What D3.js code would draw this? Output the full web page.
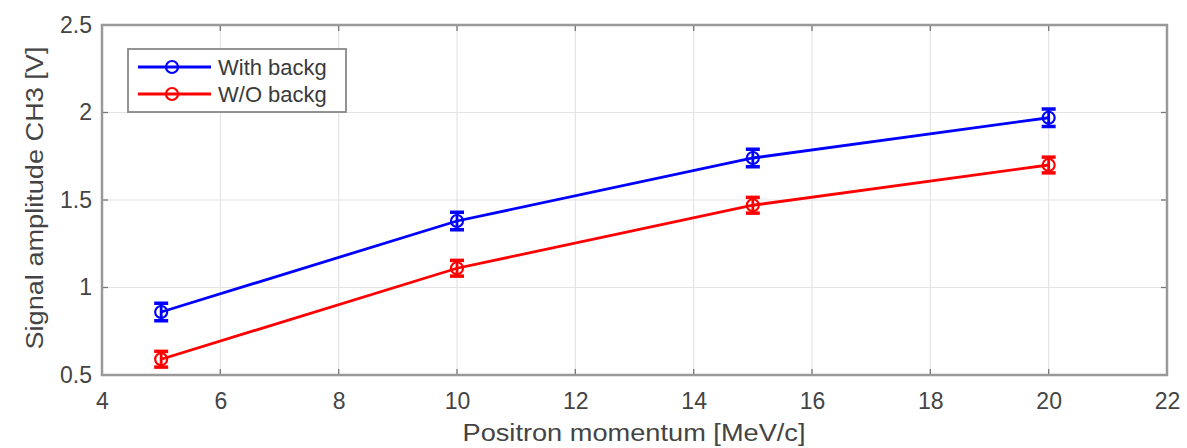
<!DOCTYPE html>
<html>
<head>
<meta charset="utf-8">
<script src="https://cdn.jsdelivr.net/npm/d3@7"></script>
<style>
  body { margin: 0; background: #fff; }
  svg text { font-family: "Liberation Sans", Arial, sans-serif; fill: #3a3a3a; }
</style>
</head>
<body>
<svg id="vis" width="1187" height="448"></svg>
<script>
var momentum = [5, 10, 15, 20];
var withBackg = [0.86, 1.38, 1.74, 1.97];
var withoutBackg = [0.59, 1.11, 1.47, 1.70];
var errWith = [0.05, 0.05, 0.05, 0.05];
var errWithout = [0.045, 0.045, 0.045, 0.045];
var xTicks = [4, 6, 8, 10, 12, 14, 16, 18, 20, 22];
var yTicks = [0.5, 1, 1.5, 2, 2.5];
var seriesNames = ["With backg", "W/O backg"];
var seriesColors = ["#0000ff", "#ff0000"];

var vis = d3.select("#vis"),
  MARGINS = { top: 25, right: 20, bottom: 73, left: 102 },
  WIDTH = 1187,
  HEIGHT = 448,
  xScale = d3.scaleLinear().domain([4, 22]).range([MARGINS.left, WIDTH - MARGINS.right]),
  yScale = d3.scaleLinear().domain([0.5, 2.5]).range([HEIGHT - MARGINS.bottom, MARGINS.top]);

// grid
vis.append("g").selectAll("line").data(xTicks).enter().append("line")
  .attr("x1", function (d) { return xScale(d); })
  .attr("x2", function (d) { return xScale(d); })
  .attr("y1", yScale(0.5)).attr("y2", yScale(2.5))
  .attr("stroke", "#e4e4e4").attr("stroke-width", 1.2);
vis.append("g").selectAll("line").data(yTicks).enter().append("line")
  .attr("y1", function (d) { return yScale(d); })
  .attr("y2", function (d) { return yScale(d); })
  .attr("x1", xScale(4)).attr("x2", xScale(22))
  .attr("stroke", "#e4e4e4").attr("stroke-width", 1.2);

// axes
var xAxis = d3.axisBottom(xScale).tickValues(xTicks).tickSize(0).tickPadding(18),
  yAxis = d3.axisLeft(yScale).tickValues(yTicks).tickSize(0).tickPadding(10)
    .tickFormat(function (d) { return d3.format("")(d); });

var gx = vis.append("g")
  .attr("transform", "translate(0," + yScale(0.5) + ")")
  .call(xAxis);
var gy = vis.append("g")
  .attr("transform", "translate(" + xScale(4) + ",0)")
  .call(yAxis);
[gx, gy].forEach(function (g) {
  g.select(".domain").remove();
  g.selectAll("text").style("font-size", "23px").style("fill", "#444");
});

// inner tick marks on all four sides
var tk = 6;
xTicks.forEach(function (t) {
  vis.append("line").attr("x1", xScale(t)).attr("x2", xScale(t))
    .attr("y1", yScale(0.5)).attr("y2", yScale(0.5) - tk).attr("stroke", "#777").attr("stroke-width", 1.3);
  vis.append("line").attr("x1", xScale(t)).attr("x2", xScale(t))
    .attr("y1", yScale(2.5)).attr("y2", yScale(2.5) + tk).attr("stroke", "#777").attr("stroke-width", 1.3);
});
yTicks.forEach(function (t) {
  vis.append("line").attr("y1", yScale(t)).attr("y2", yScale(t))
    .attr("x1", xScale(4)).attr("x2", xScale(4) + tk).attr("stroke", "#777").attr("stroke-width", 1.3);
  vis.append("line").attr("y1", yScale(t)).attr("y2", yScale(t))
    .attr("x1", xScale(22)).attr("x2", xScale(22) - tk).attr("stroke", "#777").attr("stroke-width", 1.3);
});

// box
vis.append("rect")
  .attr("x", xScale(4)).attr("y", yScale(2.5))
  .attr("width", xScale(22) - xScale(4)).attr("height", yScale(0.5) - yScale(2.5))
  .attr("fill", "none").attr("stroke", "#999").attr("stroke-width", 2.5);

// axis titles
vis.append("text")
  .attr("x", 634)
  .attr("y", 441)
  .attr("textLength", 343)
  .attr("lengthAdjust", "spacingAndGlyphs")
  .style("text-anchor", "middle")
  .style("font-size", "23px")
  .style("fill", "#444")
  .text("Positron momentum [MeV/c]");
vis.append("text")
  .attr("transform", "translate(43,198) rotate(-90)")
  .attr("textLength", 303)
  .attr("lengthAdjust", "spacingAndGlyphs")
  .style("text-anchor", "middle")
  .style("font-size", "23px")
  .style("fill", "#444")
  .text("Signal amplitude CH3 [V]");

// series
var allSeries = [
  { values: withBackg, err: errWith },
  { values: withoutBackg, err: errWithout }
];
var line = d3.line()
  .x(function (d) { return xScale(d.x); })
  .y(function (d) { return yScale(d.y); });

allSeries.forEach(function (s, i) {
  var colored = seriesColors[i];
  var pts = momentum.map(function (m, j) { return { x: m, y: s.values[j], e: s.err[j] }; });
  var g = vis.append("g");
  g.append("path").datum(pts)
    .attr("d", line).attr("fill", "none")
    .attr("stroke", colored).attr("stroke-width", 2.8);
  var cap = 7;
  pts.forEach(function (p) {
    var cx = xScale(p.x), y1 = yScale(p.y + p.e), y0 = yScale(p.y - p.e);
    g.append("line").attr("x1", cx).attr("x2", cx).attr("y1", y1).attr("y2", y0)
      .attr("stroke", colored).attr("stroke-width", 2.8);
    g.append("line").attr("x1", cx - cap).attr("x2", cx + cap).attr("y1", y1).attr("y2", y1)
      .attr("stroke", colored).attr("stroke-width", 3.5);
    g.append("line").attr("x1", cx - cap).attr("x2", cx + cap).attr("y1", y0).attr("y2", y0)
      .attr("stroke", colored).attr("stroke-width", 3.5);
    g.append("circle").attr("cx", cx).attr("cy", yScale(p.y)).attr("r", 6)
      .attr("fill", "none").attr("stroke", colored).attr("stroke-width", 2.2);
  });
});

// legend
var lg = vis.append("g");
lg.append("rect").attr("x", 128).attr("y", 49).attr("width", 218).attr("height", 63)
  .attr("fill", "#fff").attr("stroke", "#888").attr("stroke-width", 1.8);
seriesNames.forEach(function (name, i) {
  var ly = 67 + i * 27;
  lg.append("line").attr("x1", 138).attr("x2", 211).attr("y1", ly).attr("y2", ly)
    .attr("stroke", seriesColors[i]).attr("stroke-width", 2.8);
  lg.append("circle").attr("cx", 172).attr("cy", ly).attr("r", 6)
    .attr("fill", "none").attr("stroke", seriesColors[i]).attr("stroke-width", 2.2);
  lg.append("text").attr("x", 218).attr("y", ly + 8)
    .style("font-size", "22px").style("fill", "#3a3a3a")
    .text(name);
});
</script>
</body>
</html>
